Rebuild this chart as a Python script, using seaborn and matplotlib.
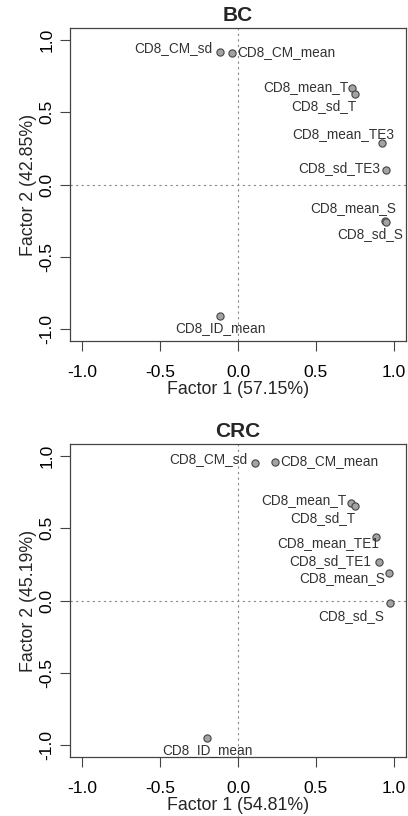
import matplotlib
matplotlib.use("Agg")
import matplotlib.pyplot as plt
import pandas as pd
import seaborn as sns

# --- data (factor loadings) ---
bc_vars = ["CD8_CM_sd", "CD8_CM_mean", "CD8_mean_T", "CD8_sd_T", "CD8_mean_TE3",
           "CD8_sd_TE3", "CD8_mean_S", "CD8_sd_S", "CD8_ID_mean"]
bc_f1 = [-0.116, -0.037, 0.731, 0.752, 0.928, 0.952, 0.945, 0.950, -0.116]
bc_f2 = [0.915, 0.910, 0.664, 0.625, 0.285, 0.099, -0.255, -0.262, -0.907]
bc_pct = [57.15, 42.85]

crc_vars = ["CD8_CM_sd", "CD8_CM_mean", "CD8_mean_T", "CD8_sd_T", "CD8_mean_TE1",
            "CD8_sd_TE1", "CD8_mean_S", "CD8_sd_S", "CD8_ID_mean"]
crc_f1 = [0.112, 0.240, 0.725, 0.752, 0.890, 0.907, 0.969, 0.980, -0.199]
crc_f2 = [0.947, 0.958, 0.675, 0.652, 0.437, 0.265, 0.187, -0.016, -0.952]
crc_pct = [54.81, 45.19]

ticks = [-1.0, -0.5, 0.0, 0.5, 1.0]

# label placement (pixel offsets from the point, horizontal alignment)
bc_lab = [(-8, 4, "right"), (5, 1, "left"), (-3, 1, "right"), (2, -12, "right"),
          (12, 9, "right"), (-6, 2, "right"), (11, 13, "right"), (17, -12, "right"),
          (0, -12, "center")]
crc_lab = [(-8, 4, "right"), (5, 1, "left"), (-4, 3, "right"), (1, -12, "right"),
           (3, -6, "right"), (-8, 1, "right"), (-4, -5, "right"), (-6, -13, "right"),
           (0, -12, "center")]

sns.set_theme(style="white")
plt.rcParams["font.family"] = ["Liberation Sans", "DejaVu Sans"]

fig = plt.figure(figsize=(4.08, 8.16), dpi=100)
ax1 = fig.add_axes([70 / 408, 1 - 341 / 816, 336 / 408, 313 / 816])
ax2 = fig.add_axes([70 / 408, 1 - 757 / 816, 336 / 408, 313 / 816])


def panel(ax, title, names, f1, f2, pct, lab):
    df = pd.DataFrame({"f1": f1, "f2": f2, "name": names})
    ax.axhline(0, color="#888888", lw=0.8, ls=(0, (2, 3)), zorder=1)
    ax.axvline(0, color="#888888", lw=0.8, ls=(0, (2, 3)), zorder=1)
    sns.scatterplot(data=df, x="f1", y="f2", ax=ax, s=27, color="#a3a3a3",
                    edgecolor="#444444", linewidth=0.8, zorder=3)
    for (_, r), (dx, dy, ha) in zip(df.iterrows(), lab):
        ax.annotate(r["name"], (r["f1"], r["f2"]), xytext=(dx, dy),
                    textcoords="offset pixels", ha=ha, va="center",
                    fontsize=9.8, color="#333333", zorder=4)
    ax.set_xlim(-1.08, 1.08)
    ax.set_ylim(-1.08, 1.08)
    ax.set_xticks(ticks)
    ax.set_yticks(ticks)
    ax.set_xticklabels([f"{t:.1f}" for t in ticks])
    ax.set_yticklabels([f"{t:.1f}" for t in ticks], rotation=90, va="center")
    ax.tick_params(axis="both", length=7, width=0.8, color="#444444",
                   labelsize=12.5, bottom=True, left=True, labelcolor="black")
    ax.tick_params(axis="x", pad=10)
    ax.tick_params(axis="y", pad=4)
    for s in ax.spines.values():
        s.set_color("#444444")
        s.set_linewidth(0.9)
    ax.set_xlabel(f"Factor 1 ({pct[0]:.2f}%)", fontsize=12.8, labelpad=1)
    ax.set_ylabel(f"Factor 2 ({pct[1]:.2f}%)", fontsize=12.8, labelpad=2)
    ax.set_title(title, fontsize=15, fontweight="bold", pad=5)


panel(ax1, "BC", bc_vars, bc_f1, bc_f2, bc_pct, bc_lab)
panel(ax2, "CRC", crc_vars, crc_f1, crc_f2, crc_pct, crc_lab)

fig.savefig("out.png", dpi=100)
